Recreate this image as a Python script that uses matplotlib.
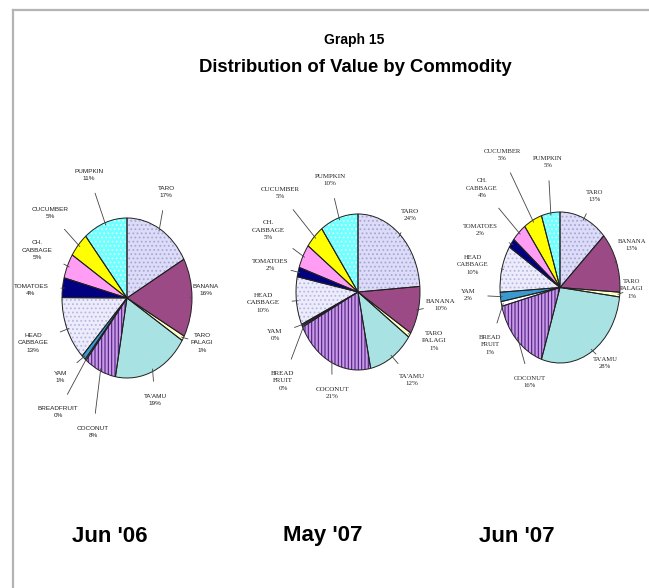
import numpy as np
import matplotlib
matplotlib.use("Agg")
import matplotlib.pyplot as plt
from matplotlib.lines import Line2D

# ---------------- data ----------------
categories = ["TARO", "BANANA", "TARO\nPALAGI", "TA'AMU", "COCONUT", "BREADFRUIT",
              "YAM", "HEAD\nCABBAGE", "TOMATOES", "CH.\nCABBAGE", "CUCUMBER", "PUMPKIN"]
periods = ["Jun '06", "May '07", "Jun '07"]
jun06 = [17, 16, 1, 19, 8, 0.3, 1, 13, 4, 5, 5, 11]
may07 = [24, 10, 1, 12, 21, 0.3, 0.3, 10, 2, 5, 5, 10]
jun07 = [13, 13, 1, 28, 16, 1, 2, 10, 2, 4, 5, 5]
pct_jun06 = [17, 16, 1, 19, 8, 0, 1, 13, 4, 5, 5, 11]
pct_may07 = [24, 10, 1, 12, 21, 0, 0, 10, 2, 5, 5, 10]
pct_jun07 = [13, 13, 1, 28, 16, 1, 2, 10, 2, 4, 5, 5]
series = [jun06, may07, jun07]
pcts = [pct_jun06, pct_may07, pct_jun07]

# ---------------- style ----------------
face = ["#dcdcf8", "#9c4a86", "#ffffc8", "#a8e2e2", "#c89ae8", "#ffffff",
        "#3a9ad0", "#ececfc", "#000080", "#ff9cf4", "#ffff00", "#70ffff"]
hatch = ["....", "", "", "", "|||||", "", "", "....", "", "", "", "...."]
hatchcol = ["#a8a8d8", "#b070a0", None, None, "#502080", None, None, "#b8b8e0",
            None, None, None, "#d0ffff"]

W, H = 649, 588
# pie bounding boxes in pixels: (left, top, right, bottom)
boxes = [(62, 218, 192, 378), (296, 214, 420, 370), (500, 212, 620, 363)]

# label centre positions in pixels, per chart, per category
label_px = [
    [(166, 192), (206, 290), (202, 343), (155, 400), (93, 432), (58, 412),
     (60, 377), (33, 343), (31, 290), (37, 250), (50, 213), (89, 175)],
    [(410, 215), (441, 305), (434, 341), (412, 380), (332, 393), (283, 381),
     (275, 335), (263, 303), (270, 265), (268, 230), (280, 193), (330, 180)],
    [(595, 196), (632, 245), (632, 289), (605, 363), (530, 382), (490, 345),
     (468, 295), (473, 265), (480, 230), (482, 188), (502, 155), (548, 162)],
]
names_by_chart = [
    categories,
    [c if c != "BREADFRUIT" else "BREAD\nFRUIT" for c in categories],
    [c if c != "BREADFRUIT" else "BREAD\nFRUIT" for c in categories],
]
label_fonts = [["Liberation Sans", "DejaVu Sans"],
               ["Liberation Serif", "DejaVu Serif"],
               ["Liberation Serif", "DejaVu Serif"]]
label_sizes = [4.6, 5.0, 4.8]

plt.rcParams["hatch.linewidth"] = 0.8
fig = plt.figure(figsize=(W / 100, H / 100), dpi=100)
fig.patch.set_facecolor("white")

for k, (vals, pc, box) in enumerate(zip(series, pcts, boxes)):
    l, t, r, b = box
    ax = fig.add_axes([l / W, (H - b) / H, (r - l) / W, (b - t) / H])
    # hatch layer
    wedges, _ = ax.pie(vals, colors=face, startangle=90, counterclock=False,
                       wedgeprops=dict(linewidth=0, edgecolor="none"))
    for i, w in enumerate(wedges):
        if hatch[i]:
            w.set_hatch(hatch[i])
            w.set_edgecolor(hatchcol[i])
    # outline layer
    ax.pie(vals, colors=["none"] * len(vals), startangle=90, counterclock=False,
           wedgeprops=dict(linewidth=0.7, edgecolor="#202020", fill=False))
    ax.set_aspect("auto")
    ax.set_xlim(-1, 1)
    ax.set_ylim(-1, 1)
    ax.axis("off")

    cx, cy = (l + r) / 2, (t + b) / 2
    hw, hh = (r - l) / 2, (b - t) / 2
    for i, w in enumerate(wedges):
        ang = np.deg2rad((w.theta1 + w.theta2) / 2)
        px, py = label_px[k][i]
        lx, ly = (px - cx) / hw, (cy - py) / hh
        txt = f"{names_by_chart[k][i]}\n{pc[i]}%"
        ax.annotate(txt, xy=(0.97 * np.cos(ang), 0.97 * np.sin(ang)), xytext=(lx, ly),
                    ha="center", va="center", fontsize=label_sizes[k],
                    family=label_fonts[k], color="#222222",
                    linespacing=1.6, annotation_clip=False,
                    arrowprops=dict(arrowstyle="-", lw=0.6, color="#444444",
                                    shrinkA=7, shrinkB=0))

# titles
fig.text(354 / W, 1 - 40 / H, "Graph 15", ha="center", va="center",
         fontsize=10, fontweight="bold", family=["Liberation Sans", "DejaVu Sans"])
fig.text(355 / W, 1 - 67 / H, "Distribution of Value by Commodity", ha="center",
         va="center", fontsize=13.3, fontweight="bold",
         family=["Liberation Sans", "DejaVu Sans"])

period_x = [110, 323, 517]
for p, x in zip(periods, period_x):
    fig.text(x / W, 1 - 536 / H, p, ha="center", va="center", fontsize=16,
             fontweight="bold", family=["Liberation Sans", "DejaVu Sans"])

# frame lines
fig.add_artist(Line2D([13 / W, 13 / W], [0, 1 - 10 / H], color="#b4b4b4", lw=1.6,
                      transform=fig.transFigure))
fig.add_artist(Line2D([13 / W, 1], [1 - 10 / H, 1 - 10 / H], color="#b4b4b4", lw=1.6,
                      transform=fig.transFigure))

fig.savefig("out.png", dpi=100, facecolor="white")
